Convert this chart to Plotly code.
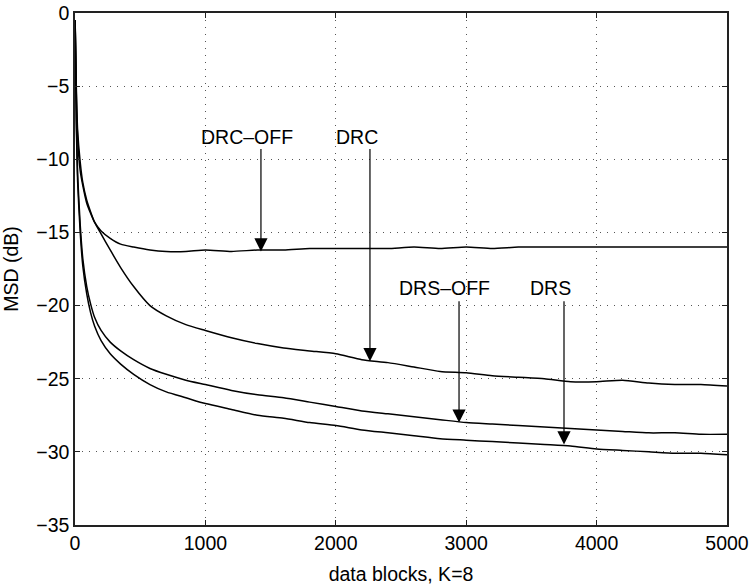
import plotly.graph_objects as go

blocks = [1, 10, 20, 40, 60, 90, 120, 150, 200, 270, 350, 450, 575, 700, 850,
          1000, 1200, 1400, 1600, 1800, 2000, 2200, 2400, 2600, 2800, 3000,
          3200, 3400, 3600, 3800, 4000, 4200, 4400, 4600, 4800, 5000]

drc_off = [-0.5, -5.5, -8.5, -10.8, -11.8, -13.0, -13.7, -14.3, -14.9, -15.4, -15.8,
           -16.0, -16.2, -16.3, -16.3, -16.2, -16.3, -16.2, -16.2, -16.1, -16.1,
           -16.1, -16.1, -16.0, -16.1, -16.0, -16.1, -16.0, -16.0, -16.0, -16.0,
           -16.0, -16.0, -16.0, -16.0, -16.0]

drc = [-0.5, -5.0, -8.0, -10.2, -11.6, -12.8, -13.6, -14.3, -15.1, -16.2, -17.4,
       -18.7, -20.0, -20.7, -21.3, -21.7, -22.2, -22.6, -22.9, -23.1, -23.3,
       -23.7, -23.9, -24.2, -24.5, -24.6, -24.8, -24.9, -25.0, -25.2, -25.2,
       -25.1, -25.3, -25.4, -25.4, -25.5]

drs_off = [-0.5, -7.0, -11.0, -14.5, -16.8, -18.7, -19.9, -20.8, -21.7, -22.5, -23.1,
           -23.7, -24.3, -24.7, -25.1, -25.4, -25.8, -26.1, -26.3, -26.6, -26.9,
           -27.2, -27.4, -27.6, -27.8, -28.0, -28.1, -28.2, -28.3, -28.4, -28.5,
           -28.6, -28.7, -28.7, -28.8, -28.8]

drs = [-0.5, -7.5, -11.5, -15.0, -17.3, -19.2, -20.5, -21.4, -22.4, -23.3, -24.0,
       -24.7, -25.4, -25.9, -26.3, -26.7, -27.1, -27.5, -27.7, -28.0, -28.2,
       -28.5, -28.7, -28.9, -29.1, -29.2, -29.3, -29.4, -29.5, -29.6, -29.8,
       -29.9, -30.0, -30.1, -30.1, -30.2]

x_ticks = [0, 1000, 2000, 3000, 4000, 5000]
y_ticks = [0, -5, -10, -15, -20, -25, -30, -35]

labels = ["DRC–OFF", "DRC", "DRS–OFF", "DRS"]
label_x = [1319, 2163, 2837, 3650]
label_y = [-8.5, -8.5, -18.8, -18.8]
arrow_x = [1426, 2262, 2945, 3750]
arrow_tail = [-9.2, -9.2, -19.6, -19.6]
arrow_tip = [-16.3, -23.8, -28.0, -29.5]

fig = go.Figure()
for ys in [drc_off, drc, drs_off, drs]:
    fig.add_trace(go.Scatter(x=blocks, y=ys, mode="lines",
                             line=dict(color="black", width=1.5, shape="spline",
                                       smoothing=0.6),
                             showlegend=False))

font = dict(family="Liberation Sans, Arial, sans-serif", size=19.5, color="black")
annotations = []
for t, tx, ty, axx, tail, tip in zip(labels, label_x, label_y, arrow_x, arrow_tail, arrow_tip):
    annotations.append(dict(x=tx, y=ty, text=t, showarrow=False, font=font,
                            xref="x", yref="y"))
    annotations.append(dict(x=axx, y=tip, ax=axx, ay=tail, axref="x", ayref="y",
                            xref="x", yref="y", text="", showarrow=True,
                            arrowhead=2, arrowsize=2.2, arrowwidth=1.2,
                            arrowcolor="black"))

axis_common = dict(showline=True, linecolor="#222", linewidth=1.5, mirror="ticks",
                   ticks="inside", ticklen=5, tickwidth=1, tickcolor="#222",
                   showgrid=True, gridcolor="#555", gridwidth=1,
                   griddash="1px,6px", zeroline=False, tickfont=font,
                   automargin=False)

fig.update_layout(
    width=752, height=588,
    margin=dict(l=75, r=25, t=13, b=63),
    paper_bgcolor="white", plot_bgcolor="white",
    annotations=annotations,
    xaxis=dict(range=[0, 5000], tickvals=x_ticks,
               title=dict(text="data blocks, K=8", font=font, standoff=14),
               **axis_common),
    yaxis=dict(range=[-35, 0], tickvals=y_ticks,
               title=dict(text="MSD (dB)", font=font, standoff=14),
               **axis_common),
)

fig.write_html("out.html", config={"displayModeBar": False},
               post_script="document.body.style.margin='0';document.body.style.overflow='hidden';")
